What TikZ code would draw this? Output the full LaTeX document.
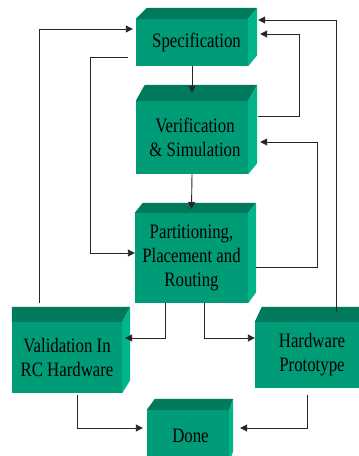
\documentclass[tikz,border=0pt]{standalone}
\usepackage{fontspec}
\usetikzlibrary{arrows.meta, calc}
\newfontfamily\boxfont[FakeStretch=0.82]{Liberation Serif}
\definecolor{frontgreen}{RGB}{0,155,119}
\definecolor{topgreen}{RGB}{0,122,90}
\definecolor{sidegreen}{RGB}{0,181,138}

\begin{document}
\begin{tikzpicture}[
    x=1pt, y=-1pt,
    front/.style={fill=frontgreen, inner sep=0pt, align=center,
        font=\boxfont\fontsize{20.5}{24}\selectfont},
    topface/.style={fill=topgreen},
    sideface/.style={fill=sidegreen},
    arrow/.style={-{Triangle[length=7pt,width=7pt]}, line width=0.9pt, black!85}
]
    \clip (0,0) rectangle (359,456);
    % front faces
    \node[front, minimum width=112pt, minimum height=47pt] (spec) at (192,42.5) {\hspace*{9pt}Specification};
    \node[front, minimum width=112pt, minimum height=73pt] (verif) at (192,137.5) {\hspace*{6pt}Verification\\\hspace*{6pt}\& Simulation};
    \node[front, minimum width=113pt, minimum height=90pt] (part) at (191.5,258) {Partitioning,\\Placement and\\Routing};
    \node[front, minimum width=110pt, minimum height=71pt] (valid) at (67,357.5) {Validation In\\RC Hardware};
    \node[front, minimum width=108pt, minimum height=66pt] (hw) at (309,355) {\hspace*{6pt}Hardware\\\hspace*{6pt}Prototype};
    \node[front, minimum width=82pt, minimum height=52pt] (done) at (188,436) {\hspace*{5pt}Done};
    % top and side faces
    \foreach \n/\dl/\dr/\dy/\dz in {spec/11/9/11/11, verif/9/9/16/11, part/8/8/10/11,
                                    valid/0/8/15/13, hw/7/8/15/11, done/8/4/11/11} {
        \fill[topface] (\n.north west) -- ++(\dl,-\dy) -- ($(\n.north east)+(\dr,-\dy)$)
            -- (\n.north east) -- cycle;
        \fill[sideface] (\n.north east) -- ++(\dr,-\dy) -- ($(\n.south east)+(\dr,-\dz)$)
            -- (\n.south east) -- cycle;
    }
    % connectors
    \draw[arrow] (spec.south) -- ([yshift=8pt]verif.north);
    \draw[arrow] (verif.south) -- ([yshift=4pt]part.north);
    \draw[arrow] ([xshift=28pt,yshift=19pt]valid.north west) |- ([xshift=-3pt,yshift=13.5pt]spec.west);
    \draw[arrow] ([xshift=-8pt,yshift=-14.5pt]spec.west) -- ++(-37,0) |- ([yshift=5pt]part.west);
    \draw[arrow] ([xshift=10pt,yshift=21.5pt]verif.east) -- ++(41,0) |- ([xshift=12pt,yshift=8.5pt]spec.east);
    \draw[arrow] ([xshift=82pt,yshift=10pt]hw.north west) |- ([xshift=10pt,yshift=22.5pt]spec.east);
    \draw[arrow] ([xshift=8pt,yshift=-9pt]part.east) -- ++(61,0) |- ([xshift=12pt,yshift=-4.5pt]verif.east);
    \draw[arrow] ([xshift=31pt]part.south west) |- ([xshift=3pt,yshift=19.5pt]valid.east);
    \draw[arrow] ([xshift=70pt]part.south west) |- ([yshift=17pt]hw.west);
    \draw[arrow] ([xshift=10pt,yshift=-2pt]valid.south) |- ([xshift=-4pt,yshift=8pt]done.west);
    \draw[arrow] ([xshift=-2pt,yshift=-7pt]hw.south) |- ([xshift=11pt,yshift=8pt]done.east);
\end{tikzpicture}
\end{document}
